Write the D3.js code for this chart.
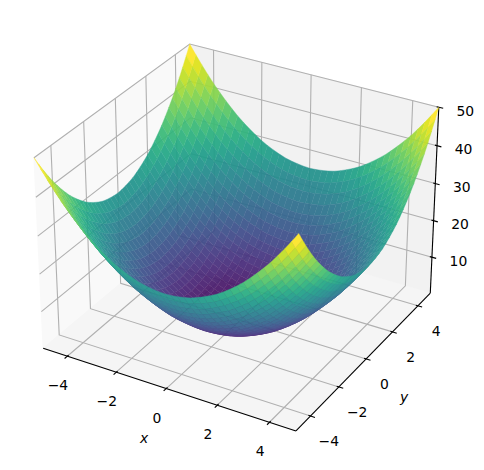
<!DOCTYPE html>
<html>
<head>
<meta charset="utf-8">
<script src="https://cdn.jsdelivr.net/npm/d3@7"></script>
<style>
  html, body { margin: 0; padding: 0; background: #fff; overflow: hidden; }
  text { font-family: "DejaVu Sans", sans-serif; font-size: 13.9px; fill: #000; }
</style>
</head>
<body>
<div id="chart"></div>
<script>
// 3D surface z over an x/y grid, viewed at elev 30 / azim -60

const xValues = [-5,-4.75,-4.5,-4.25,-4,-3.75,-3.5,-3.25,-3,-2.75,-2.5,-2.25,-2,-1.75,-1.5,-1.25,-1,-0.75,-0.5,-0.25,0,0.25,0.5,0.75,1,1.25,1.5,1.75,2,2.25,2.5,2.75,3,3.25,3.5,3.75,4,4.25,4.5,4.75,5];
const yValues = [-5,-4.75,-4.5,-4.25,-4,-3.75,-3.5,-3.25,-3,-2.75,-2.5,-2.25,-2,-1.75,-1.5,-1.25,-1,-0.75,-0.5,-0.25,0,0.25,0.5,0.75,1,1.25,1.5,1.75,2,2.25,2.5,2.75,3,3.25,3.5,3.75,4,4.25,4.5,4.75,5];

// one row per x value, one column per y value
const zValues = [
[50,47.6,45.3,43.1,41,39.1,37.3,35.6,34,32.6,31.3,30.1,29,28.1,27.3,26.6,26,25.6,25.3,25.1,25,25.1,25.3,25.6,26,26.6,27.3,28.1,29,30.1,31.3,32.6,34,35.6,37.3,39.1,41,43.1,45.3,47.6,50],
[47.6,45.2,42.9,40.7,38.6,36.7,34.9,33.2,31.6,30.2,28.9,27.7,26.6,25.7,24.9,24.2,23.6,23.2,22.9,22.7,22.6,22.7,22.9,23.2,23.6,24.2,24.9,25.7,26.6,27.7,28.9,30.2,31.6,33.2,34.9,36.7,38.6,40.7,42.9,45.2,47.6],
[45.3,42.9,40.6,38.4,36.3,34.4,32.6,30.9,29.3,27.9,26.6,25.4,24.3,23.4,22.6,21.9,21.3,20.9,20.6,20.4,20.3,20.4,20.6,20.9,21.3,21.9,22.6,23.4,24.3,25.4,26.6,27.9,29.3,30.9,32.6,34.4,36.3,38.4,40.6,42.9,45.3],
[43.1,40.7,38.4,36.2,34.1,32.2,30.4,28.7,27.1,25.7,24.4,23.2,22.1,21.2,20.4,19.7,19.1,18.7,18.4,18.2,18.1,18.2,18.4,18.7,19.1,19.7,20.4,21.2,22.1,23.2,24.4,25.7,27.1,28.7,30.4,32.2,34.1,36.2,38.4,40.7,43.1],
[41,38.6,36.3,34.1,32,30.1,28.3,26.6,25,23.6,22.3,21.1,20,19.1,18.3,17.6,17,16.6,16.3,16.1,16,16.1,16.3,16.6,17,17.6,18.3,19.1,20,21.1,22.3,23.6,25,26.6,28.3,30.1,32,34.1,36.3,38.6,41],
[39.1,36.7,34.4,32.2,30.1,28.2,26.4,24.7,23.1,21.7,20.4,19.2,18.1,17.2,16.4,15.7,15.1,14.7,14.4,14.2,14.1,14.2,14.4,14.7,15.1,15.7,16.4,17.2,18.1,19.2,20.4,21.7,23.1,24.7,26.4,28.2,30.1,32.2,34.4,36.7,39.1],
[37.3,34.9,32.6,30.4,28.3,26.4,24.6,22.9,21.3,19.9,18.6,17.4,16.3,15.4,14.6,13.9,13.3,12.9,12.6,12.4,12.3,12.4,12.6,12.9,13.3,13.9,14.6,15.4,16.3,17.4,18.6,19.9,21.3,22.9,24.6,26.4,28.3,30.4,32.6,34.9,37.3],
[35.6,33.2,30.9,28.7,26.6,24.7,22.9,21.2,19.6,18.2,16.9,15.7,14.6,13.7,12.9,12.2,11.6,11.2,10.9,10.7,10.6,10.7,10.9,11.2,11.6,12.2,12.9,13.7,14.6,15.7,16.9,18.2,19.6,21.2,22.9,24.7,26.6,28.7,30.9,33.2,35.6],
[34,31.6,29.3,27.1,25,23.1,21.3,19.6,18,16.6,15.3,14.1,13,12.1,11.3,10.6,10,9.6,9.3,9.1,9,9.1,9.3,9.6,10,10.6,11.3,12.1,13,14.1,15.3,16.6,18,19.6,21.3,23.1,25,27.1,29.3,31.6,34],
[32.6,30.2,27.9,25.7,23.6,21.7,19.9,18.2,16.6,15.2,13.9,12.7,11.6,10.7,9.9,9.2,8.6,8.2,7.9,7.7,7.6,7.7,7.9,8.2,8.6,9.2,9.9,10.7,11.6,12.7,13.9,15.2,16.6,18.2,19.9,21.7,23.6,25.7,27.9,30.2,32.6],
[31.3,28.9,26.6,24.4,22.3,20.4,18.6,16.9,15.3,13.9,12.6,11.4,10.3,9.4,8.6,7.9,7.3,6.9,6.6,6.4,6.3,6.4,6.6,6.9,7.3,7.9,8.6,9.4,10.3,11.4,12.6,13.9,15.3,16.9,18.6,20.4,22.3,24.4,26.6,28.9,31.3],
[30.1,27.7,25.4,23.2,21.1,19.2,17.4,15.7,14.1,12.7,11.4,10.2,9.1,8.2,7.4,6.7,6.1,5.7,5.4,5.2,5.1,5.2,5.4,5.7,6.1,6.7,7.4,8.2,9.1,10.2,11.4,12.7,14.1,15.7,17.4,19.2,21.1,23.2,25.4,27.7,30.1],
[29,26.6,24.3,22.1,20,18.1,16.3,14.6,13,11.6,10.3,9.1,8,7.1,6.3,5.6,5,4.6,4.3,4.1,4,4.1,4.3,4.6,5,5.6,6.3,7.1,8,9.1,10.3,11.6,13,14.6,16.3,18.1,20,22.1,24.3,26.6,29],
[28.1,25.7,23.4,21.2,19.1,17.2,15.4,13.7,12.1,10.7,9.4,8.2,7.1,6.2,5.4,4.7,4.1,3.7,3.4,3.2,3.1,3.2,3.4,3.7,4.1,4.7,5.4,6.2,7.1,8.2,9.4,10.7,12.1,13.7,15.4,17.2,19.1,21.2,23.4,25.7,28.1],
[27.3,24.9,22.6,20.4,18.3,16.4,14.6,12.9,11.3,9.9,8.6,7.4,6.3,5.4,4.6,3.9,3.3,2.9,2.6,2.4,2.3,2.4,2.6,2.9,3.3,3.9,4.6,5.4,6.3,7.4,8.6,9.9,11.3,12.9,14.6,16.4,18.3,20.4,22.6,24.9,27.3],
[26.6,24.2,21.9,19.7,17.6,15.7,13.9,12.2,10.6,9.2,7.9,6.7,5.6,4.7,3.9,3.2,2.6,2.2,1.9,1.7,1.6,1.7,1.9,2.2,2.6,3.2,3.9,4.7,5.6,6.7,7.9,9.2,10.6,12.2,13.9,15.7,17.6,19.7,21.9,24.2,26.6],
[26,23.6,21.3,19.1,17,15.1,13.3,11.6,10,8.6,7.3,6.1,5,4.1,3.3,2.6,2,1.6,1.3,1.1,1,1.1,1.3,1.6,2,2.6,3.3,4.1,5,6.1,7.3,8.6,10,11.6,13.3,15.1,17,19.1,21.3,23.6,26],
[25.6,23.2,20.9,18.7,16.6,14.7,12.9,11.2,9.6,8.2,6.9,5.7,4.6,3.7,2.9,2.2,1.6,1.2,0.9,0.7,0.6,0.7,0.9,1.2,1.6,2.2,2.9,3.7,4.6,5.7,6.9,8.2,9.6,11.2,12.9,14.7,16.6,18.7,20.9,23.2,25.6],
[25.3,22.9,20.6,18.4,16.3,14.4,12.6,10.9,9.3,7.9,6.6,5.4,4.3,3.4,2.6,1.9,1.3,0.9,0.6,0.4,0.3,0.4,0.6,0.9,1.3,1.9,2.6,3.4,4.3,5.4,6.6,7.9,9.3,10.9,12.6,14.4,16.3,18.4,20.6,22.9,25.3],
[25.1,22.7,20.4,18.2,16.1,14.2,12.4,10.7,9.1,7.7,6.4,5.2,4.1,3.2,2.4,1.7,1.1,0.7,0.4,0.2,0.1,0.2,0.4,0.7,1.1,1.7,2.4,3.2,4.1,5.2,6.4,7.7,9.1,10.7,12.4,14.2,16.1,18.2,20.4,22.7,25.1],
[25,22.6,20.3,18.1,16,14.1,12.3,10.6,9,7.6,6.3,5.1,4,3.1,2.3,1.6,1,0.6,0.3,0.1,0,0.1,0.3,0.6,1,1.6,2.3,3.1,4,5.1,6.3,7.6,9,10.6,12.3,14.1,16,18.1,20.3,22.6,25],
[25.1,22.7,20.4,18.2,16.1,14.2,12.4,10.7,9.1,7.7,6.4,5.2,4.1,3.2,2.4,1.7,1.1,0.7,0.4,0.2,0.1,0.2,0.4,0.7,1.1,1.7,2.4,3.2,4.1,5.2,6.4,7.7,9.1,10.7,12.4,14.2,16.1,18.2,20.4,22.7,25.1],
[25.3,22.9,20.6,18.4,16.3,14.4,12.6,10.9,9.3,7.9,6.6,5.4,4.3,3.4,2.6,1.9,1.3,0.9,0.6,0.4,0.3,0.4,0.6,0.9,1.3,1.9,2.6,3.4,4.3,5.4,6.6,7.9,9.3,10.9,12.6,14.4,16.3,18.4,20.6,22.9,25.3],
[25.6,23.2,20.9,18.7,16.6,14.7,12.9,11.2,9.6,8.2,6.9,5.7,4.6,3.7,2.9,2.2,1.6,1.2,0.9,0.7,0.6,0.7,0.9,1.2,1.6,2.2,2.9,3.7,4.6,5.7,6.9,8.2,9.6,11.2,12.9,14.7,16.6,18.7,20.9,23.2,25.6],
[26,23.6,21.3,19.1,17,15.1,13.3,11.6,10,8.6,7.3,6.1,5,4.1,3.3,2.6,2,1.6,1.3,1.1,1,1.1,1.3,1.6,2,2.6,3.3,4.1,5,6.1,7.3,8.6,10,11.6,13.3,15.1,17,19.1,21.3,23.6,26],
[26.6,24.2,21.9,19.7,17.6,15.7,13.9,12.2,10.6,9.2,7.9,6.7,5.6,4.7,3.9,3.2,2.6,2.2,1.9,1.7,1.6,1.7,1.9,2.2,2.6,3.2,3.9,4.7,5.6,6.7,7.9,9.2,10.6,12.2,13.9,15.7,17.6,19.7,21.9,24.2,26.6],
[27.3,24.9,22.6,20.4,18.3,16.4,14.6,12.9,11.3,9.9,8.6,7.4,6.3,5.4,4.6,3.9,3.3,2.9,2.6,2.4,2.3,2.4,2.6,2.9,3.3,3.9,4.6,5.4,6.3,7.4,8.6,9.9,11.3,12.9,14.6,16.4,18.3,20.4,22.6,24.9,27.3],
[28.1,25.7,23.4,21.2,19.1,17.2,15.4,13.7,12.1,10.7,9.4,8.2,7.1,6.2,5.4,4.7,4.1,3.7,3.4,3.2,3.1,3.2,3.4,3.7,4.1,4.7,5.4,6.2,7.1,8.2,9.4,10.7,12.1,13.7,15.4,17.2,19.1,21.2,23.4,25.7,28.1],
[29,26.6,24.3,22.1,20,18.1,16.3,14.6,13,11.6,10.3,9.1,8,7.1,6.3,5.6,5,4.6,4.3,4.1,4,4.1,4.3,4.6,5,5.6,6.3,7.1,8,9.1,10.3,11.6,13,14.6,16.3,18.1,20,22.1,24.3,26.6,29],
[30.1,27.7,25.4,23.2,21.1,19.2,17.4,15.7,14.1,12.7,11.4,10.2,9.1,8.2,7.4,6.7,6.1,5.7,5.4,5.2,5.1,5.2,5.4,5.7,6.1,6.7,7.4,8.2,9.1,10.2,11.4,12.7,14.1,15.7,17.4,19.2,21.1,23.2,25.4,27.7,30.1],
[31.3,28.9,26.6,24.4,22.3,20.4,18.6,16.9,15.3,13.9,12.6,11.4,10.3,9.4,8.6,7.9,7.3,6.9,6.6,6.4,6.3,6.4,6.6,6.9,7.3,7.9,8.6,9.4,10.3,11.4,12.6,13.9,15.3,16.9,18.6,20.4,22.3,24.4,26.6,28.9,31.3],
[32.6,30.2,27.9,25.7,23.6,21.7,19.9,18.2,16.6,15.2,13.9,12.7,11.6,10.7,9.9,9.2,8.6,8.2,7.9,7.7,7.6,7.7,7.9,8.2,8.6,9.2,9.9,10.7,11.6,12.7,13.9,15.2,16.6,18.2,19.9,21.7,23.6,25.7,27.9,30.2,32.6],
[34,31.6,29.3,27.1,25,23.1,21.3,19.6,18,16.6,15.3,14.1,13,12.1,11.3,10.6,10,9.6,9.3,9.1,9,9.1,9.3,9.6,10,10.6,11.3,12.1,13,14.1,15.3,16.6,18,19.6,21.3,23.1,25,27.1,29.3,31.6,34],
[35.6,33.2,30.9,28.7,26.6,24.7,22.9,21.2,19.6,18.2,16.9,15.7,14.6,13.7,12.9,12.2,11.6,11.2,10.9,10.7,10.6,10.7,10.9,11.2,11.6,12.2,12.9,13.7,14.6,15.7,16.9,18.2,19.6,21.2,22.9,24.7,26.6,28.7,30.9,33.2,35.6],
[37.3,34.9,32.6,30.4,28.3,26.4,24.6,22.9,21.3,19.9,18.6,17.4,16.3,15.4,14.6,13.9,13.3,12.9,12.6,12.4,12.3,12.4,12.6,12.9,13.3,13.9,14.6,15.4,16.3,17.4,18.6,19.9,21.3,22.9,24.6,26.4,28.3,30.4,32.6,34.9,37.3],
[39.1,36.7,34.4,32.2,30.1,28.2,26.4,24.7,23.1,21.7,20.4,19.2,18.1,17.2,16.4,15.7,15.1,14.7,14.4,14.2,14.1,14.2,14.4,14.7,15.1,15.7,16.4,17.2,18.1,19.2,20.4,21.7,23.1,24.7,26.4,28.2,30.1,32.2,34.4,36.7,39.1],
[41,38.6,36.3,34.1,32,30.1,28.3,26.6,25,23.6,22.3,21.1,20,19.1,18.3,17.6,17,16.6,16.3,16.1,16,16.1,16.3,16.6,17,17.6,18.3,19.1,20,21.1,22.3,23.6,25,26.6,28.3,30.1,32,34.1,36.3,38.6,41],
[43.1,40.7,38.4,36.2,34.1,32.2,30.4,28.7,27.1,25.7,24.4,23.2,22.1,21.2,20.4,19.7,19.1,18.7,18.4,18.2,18.1,18.2,18.4,18.7,19.1,19.7,20.4,21.2,22.1,23.2,24.4,25.7,27.1,28.7,30.4,32.2,34.1,36.2,38.4,40.7,43.1],
[45.3,42.9,40.6,38.4,36.3,34.4,32.6,30.9,29.3,27.9,26.6,25.4,24.3,23.4,22.6,21.9,21.3,20.9,20.6,20.4,20.3,20.4,20.6,20.9,21.3,21.9,22.6,23.4,24.3,25.4,26.6,27.9,29.3,30.9,32.6,34.4,36.3,38.4,40.6,42.9,45.3],
[47.6,45.2,42.9,40.7,38.6,36.7,34.9,33.2,31.6,30.2,28.9,27.7,26.6,25.7,24.9,24.2,23.6,23.2,22.9,22.7,22.6,22.7,22.9,23.2,23.6,24.2,24.9,25.7,26.6,27.7,28.9,30.2,31.6,33.2,34.9,36.7,38.6,40.7,42.9,45.2,47.6],
[50,47.6,45.3,43.1,41,39.1,37.3,35.6,34,32.6,31.3,30.1,29,28.1,27.3,26.6,26,25.6,25.3,25.1,25,25.1,25.3,25.6,26,26.6,27.3,28.1,29,30.1,31.3,32.6,34,35.6,37.3,39.1,41,43.1,45.3,47.6,50]
];

const xTicks = [-4, -2, 0, 2, 4];
const yTicks = [-4, -2, 0, 2, 4];
const zTicks = [10, 20, 30, 40, 50];

const width = 484, height = 470;
const zMin = 0, zMax = 50, xyMin = -5, xyMax = 5;

// Box half sizes and camera
const halfXY = 0.5952, halfZ = 0.4464, dist = 10;
const xScale = d3.scaleLinear().domain([xyMin, xyMax]).range([-halfXY, halfXY]);
const yScale = d3.scaleLinear().domain([xyMin, xyMax]).range([-halfXY, halfXY]);
const zScale = d3.scaleLinear().domain([zMin, zMax]).range([-halfZ, halfZ]);

const elev = 30 * Math.PI / 180, azim = -60 * Math.PI / 180;
const w = [Math.cos(elev) * Math.cos(azim), Math.cos(elev) * Math.sin(azim), Math.sin(elev)];
const u = [-Math.sin(azim), Math.cos(azim), 0];
const v = [w[1] * u[2] - w[2] * u[1], w[2] * u[0] - w[0] * u[2], w[0] * u[1] - w[1] * u[0]];
const dot = (a, b) => a[0] * b[0] + a[1] * b[1] + a[2] * b[2];

const pxScale = 2433, cx = 240.3, cy = 228.2;

function depth(x, y, z) {
  return dist - dot(w, [xScale(x), yScale(y), zScale(z)]);
}
function project(x, y, z) {
  const p = [xScale(x), yScale(y), zScale(z)];
  const d = dist - dot(w, p);
  return [cx + pxScale * dot(u, p) / d, cy - pxScale * dot(v, p) / d];
}

const line = d3.line();
const linePath = pts => line(pts.map(p => project(p[0], p[1], p[2])));
const polyPath = pts => linePath(pts) + "Z";

const svg = d3.select("#chart").append("svg")
  .attr("width", width)
  .attr("height", height)
  .style("display", "block");

// Panes
const panes = [
  { color: "#f9f9f9", pts: [[xyMin, xyMin, zMin], [xyMin, xyMin, zMax], [xyMin, xyMax, zMax], [xyMin, xyMax, zMin]] },
  { color: "#f2f2f2", pts: [[xyMin, xyMax, zMin], [xyMin, xyMax, zMax], [xyMax, xyMax, zMax], [xyMax, xyMax, zMin]] },
  { color: "#f5f5f5", pts: [[xyMin, xyMin, zMin], [xyMax, xyMin, zMin], [xyMax, xyMax, zMin], [xyMin, xyMax, zMin]] }
];
svg.append("g").selectAll("path")
  .data(panes)
  .join("path")
  .attr("d", d => polyPath(d.pts))
  .attr("fill", d => d.color)
  .attr("stroke", d => d.color)
  .attr("stroke-width", 1);

// Grid lines
const gridLines = [
  ...xTicks.map(t => [[t, xyMin, zMin], [t, xyMax, zMin], [t, xyMax, zMax]]),
  ...yTicks.map(t => [[xyMax, t, zMin], [xyMin, t, zMin], [xyMin, t, zMax]]),
  ...zTicks.map(t => [[xyMin, xyMin, t], [xyMin, xyMax, t], [xyMax, xyMax, t]])
];
svg.append("g").selectAll("path")
  .data(gridLines)
  .join("path")
  .attr("d", linePath)
  .attr("fill", "none")
  .attr("stroke", "#b0b0b0")
  .attr("stroke-width", 1.1);

// Axis lines
const axisLines = [
  [[xyMin, xyMin, zMin], [xyMax, xyMin, zMin]],
  [[xyMax, xyMin, zMin], [xyMax, xyMax, zMin]],
  [[xyMax, xyMax, zMin], [xyMax, xyMax, zMax]]
];
svg.append("g").selectAll("path")
  .data(axisLines)
  .join("path")
  .attr("d", linePath)
  .attr("fill", "none")
  .attr("stroke", "#000")
  .attr("stroke-width", 1.1);

// Tick marks, they run along the neighbouring axis direction
const tickOut = 0.167, tickIn = 0.083;
const tickMarks = [
  ...xTicks.map(t => [[t, xyMin - tickOut, zMin], [t, xyMin + tickIn, zMin]]),
  ...yTicks.map(t => [[xyMax + tickOut, t, zMin], [xyMax - tickIn, t, zMin]]),
  ...zTicks.map(t => [[xyMax + tickOut, xyMax, t], [xyMax - tickIn, xyMax, t]])
];
svg.append("g").selectAll("path")
  .data(tickMarks)
  .join("path")
  .attr("d", linePath)
  .attr("fill", "none")
  .attr("stroke", "#000")
  .attr("stroke-width", 1.1);

// Tick labels
const fmt = t => String(t).replace("-", "\u2212");
const tickLabels = [
  ...xTicks.map(t => ({ t, p: project(t, xyMin, zMin), dx: -9.4, dy: 29.2 })),
  ...yTicks.map(t => ({ t, p: project(xyMax, t, zMin), dx: 18.3, dy: 25 })),
  ...zTicks.map(t => ({ t, p: project(xyMax, xyMax, t), dx: 26.5, dy: 3.5 }))
];
svg.append("g").selectAll("text")
  .data(tickLabels)
  .join("text")
  .attr("x", d => d.p[0] + d.dx)
  .attr("y", d => d.p[1] + d.dy)
  .attr("text-anchor", "middle")
  .attr("dominant-baseline", "central")
  .text(d => fmt(d.t));

// Axis labels
const axisLabels = [
  { s: "x", p: project(0, xyMin, zMin), dx: -22, dy: 49 },
  { s: "y", p: project(xyMax, 0, zMin), dx: 38, dy: 38 },
  { s: "z", p: project(xyMax, xyMax, 25), dx: 56, dy: 7 }
];
svg.append("g").selectAll("text")
  .data(axisLabels)
  .join("text")
  .attr("x", d => d.p[0] + d.dx)
  .attr("y", d => d.p[1] + d.dy)
  .attr("text-anchor", "middle")
  .attr("dominant-baseline", "central")
  .style("font-style", "italic")
  .text(d => d.s);

// Surface cells, far ones first
const cells = [];
for (let i = 0; i < xValues.length - 1; i++) {
  for (let j = 0; j < yValues.length - 1; j++) {
    const pts = [
      [xValues[i], yValues[j], zValues[i][j]],
      [xValues[i + 1], yValues[j], zValues[i + 1][j]],
      [xValues[i + 1], yValues[j + 1], zValues[i + 1][j + 1]],
      [xValues[i], yValues[j + 1], zValues[i][j + 1]]
    ];
    cells.push({
      pts,
      z: d3.mean(pts, p => p[2]),
      depth: d3.mean(pts, p => depth(p[0], p[1], p[2]))
    });
  }
}
cells.sort((a, b) => b.depth - a.depth);

const colorScale = d3.scaleSequential(d3.interpolateViridis).domain(d3.extent(cells, d => d.z));

// thin same-colour stroke hides most of the seams, the reference mesh is much finer
svg.append("g")
  .attr("opacity", 0.92)
  .selectAll("path")
  .data(cells)
  .join("path")
  .attr("d", d => polyPath(d.pts))
  .attr("fill", d => colorScale(d.z))
  .attr("stroke", d => colorScale(d.z))
  .attr("stroke-width", 0.4);
</script>
</body>
</html>
